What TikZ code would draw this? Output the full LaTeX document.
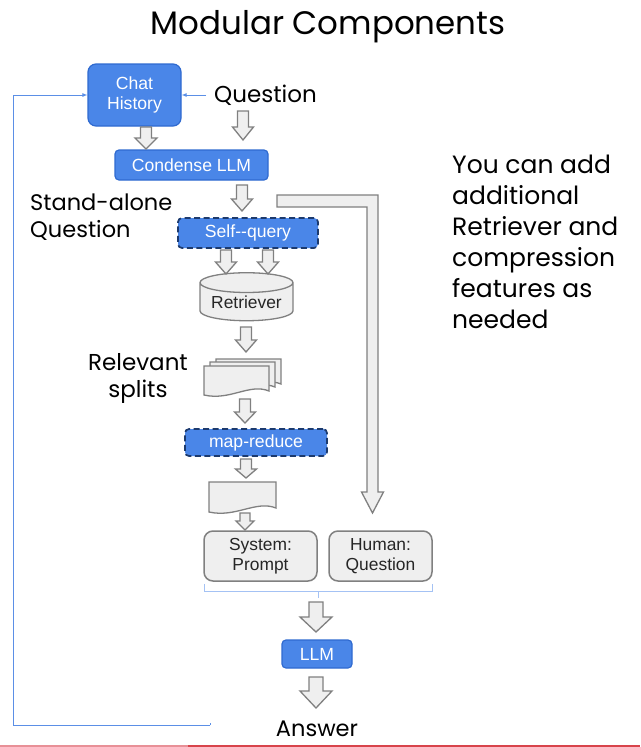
\documentclass[tikz,border=0pt]{standalone}
\usepackage{fontspec}
\setmainfont{Poppins}
\newfontfamily\arial{Liberation Sans}
\usetikzlibrary{shapes.geometric,arrows.meta,calc}
\definecolor{gblue}{HTML}{4A86E8}
\definecolor{gblueb}{HTML}{2F6AD0}
\definecolor{navy}{HTML}{1C3A6E}
\definecolor{agray}{HTML}{808080}
\definecolor{afill}{HTML}{EFEFEF}
\definecolor{fbblue}{HTML}{5B8FE6}
\definecolor{lblue}{HTML}{A4C2F4}
\definecolor{tgray}{HTML}{262626}
\definecolor{barpink}{HTML}{E89097}
\definecolor{barred}{HTML}{D8444B}
\newcommand\harrow[6]{% x, top, head base, tip, shaft half width, head half width
  \draw[harr] (#1-#5,#2) -- (#1+#5,#2) -- (#1+#5,#3) -- (#1+#6,#3) -- (#1,#4)
    -- (#1-#6,#3) -- (#1-#5,#3) -- cycle;}
\newcommand\docshape[4]{% left, top, right, bottom
  \draw[docst] (#1,#2) -- (#3,#2) -- (#3,#4-4)
    .. controls (#1*0.3+#3*0.7,#4-12) and (#1*0.6+#3*0.4,#4+6) .. (#1,#4) -- cycle;}
\begin{document}
\begin{tikzpicture}[x=1pt,y=-1pt,
  bluebox/.style={draw=gblueb, line width=1.2pt, fill=gblue, rounded corners=4pt,
    text=white, font=\arial\fontsize{17.6}{20}\selectfont, align=center, inner sep=0pt},
  dashbox/.style={bluebox, draw=navy, dash pattern=on 6pt off 3.5pt, line width=1.7pt},
  graybox/.style={draw=agray, line width=1.5pt, fill=afill, rounded corners=9pt,
    text=tgray, font=\arial\fontsize{17.4}{20.5}\selectfont, align=center, inner sep=0pt},
  harr/.style={draw=agray, fill=afill, line width=1.3pt, line join=miter},
  docst/.style={draw=agray, fill=afill, line width=1.3pt},
  lbl/.style={font=\fontsize{22.5}{27}\selectfont, text=black, align=left, inner sep=0pt},
  fbline/.style={draw=fbblue, line width=0.9pt},
]
\useasboundingbox (0,0) rectangle (640,747);
\fill[white] (0,0) rectangle (640,747);

% title
\node[font=\fontsize{32.5}{38}\selectfont, inner sep=0pt, anchor=base] (title) at (328,34) {Modular Components};

% blue boxes
\node[bluebox, rounded corners=8pt, minimum width=93pt, minimum height=62pt] (chat) at (134.5,95) {Chat\\History};
\node[bluebox, minimum width=153pt, minimum height=30pt] (condense) at (191.5,165) {Condense LLM};
\node[dashbox, minimum width=140pt, minimum height=30pt] (selfq) at (248,233) {Self-\kern0pt-query};
\node[shape=cylinder, shape border rotate=90, aspect=0.28, draw=agray, fill=afill, line width=1.3pt,
  minimum width=93pt, minimum height=48pt, inner sep=0pt, text=tgray,
  font=\arial\fontsize{17.4}{20}\selectfont] (retr) at (246.5,302) {\raisebox{-5pt}{Retriever}};
\node[dashbox, minimum width=142pt, minimum height=27pt] (mapred) at (256,442.5) {map-reduce};
\node[graybox, minimum width=113pt, minimum height=50pt] (sys) at (260.5,556) {System:\\Prompt};
\node[graybox, minimum width=103pt, minimum height=50pt] (hum) at (380.5,556) {Human:\\Question};
\node[bluebox, minimum width=70pt, minimum height=28pt] (llm) at (317,654) {LLM};

% labels (multi-line nodes: base = last line's baseline)
\node[lbl, font=\fontsize{23}{27}\selectfont, anchor=base west] (q) at (214,102) {Question};
\node[lbl, anchor=base west] (sa) at (30,237) {Stand-alone\\Question};
\node[lbl, font=\fontsize{23}{27}\selectfont, anchor=base, align=center] (rs) at (138,397) {Relevant\\splits};
\node[lbl, anchor=base] (ans) at (317,736) {Answer};
\node[font=\fontsize{25}{31}\selectfont, inner sep=0pt, anchor=base west, align=left] (note) at (452,328)
  {You can add\\additional\\Retriever and\\compression\\features as\\needed};

% documents
\docshape{216}{359}{281}{388}
\docshape{210}{362}{275}{391}
\docshape{204}{366}{269}{395}
\docshape{209}{482}{276}{512}
\coordinate (docs) at (242,380);

% hollow arrows
\harrow{146}{127}{138}{149}{5.5}{11}
\harrow{243}{111}{127}{140}{5.5}{10.5}
\harrow{242}{185}{199}{211}{5.5}{10.5}
\harrow{226}{250}{262}{274}{5.5}{10.5}
\harrow{268}{250}{262}{274}{5.5}{10.5}
\harrow{246}{327}{340}{352}{5.5}{10.5}
\harrow{245}{399}{412}{423}{5.5}{10.5}
\harrow{246}{459}{469}{478}{5.5}{10.5}
\harrow{245}{513}{521}{530}{5}{9}
\harrow{316}{602}{617}{632}{7}{16}
\harrow{316}{677}{691}{708}{7}{16}

% big L-shaped hollow arrow
\draw[harr] (277,195) -- (378,195) -- (378,492) -- (383.5,492) -- (372.5,513)
  -- (361.5,492) -- (367,492) -- (367,207) -- (277,207) -- cycle;

% brace under prompt boxes
\draw[draw=lblue, line width=1pt] ($(sys.south west)+(1,2)$) -- ++(0,8) -| ($(hum.south east)+(0,2)$);
\draw[draw=lblue, line width=1pt] (318,591) -- (318,598);

% thin blue connectors
\draw[fbline, -{Latex[length=5pt,width=4pt]}, shorten <=8pt] (q.west |- chat.east) -- (chat.east);
\coordinate (fbend) at (210,725);
\draw[fbline] (fbend) -- ++(0,-2);
\draw[fbline, -{Latex[length=5pt,width=4pt]}] (fbend) -- (13,725) -- (13,95) -- (chat.west);

% progress bar
\fill[barpink] (0,744.5) rectangle (188,747);
\fill[barred] (188,744.5) rectangle (640,747);
\end{tikzpicture}
\end{document}
